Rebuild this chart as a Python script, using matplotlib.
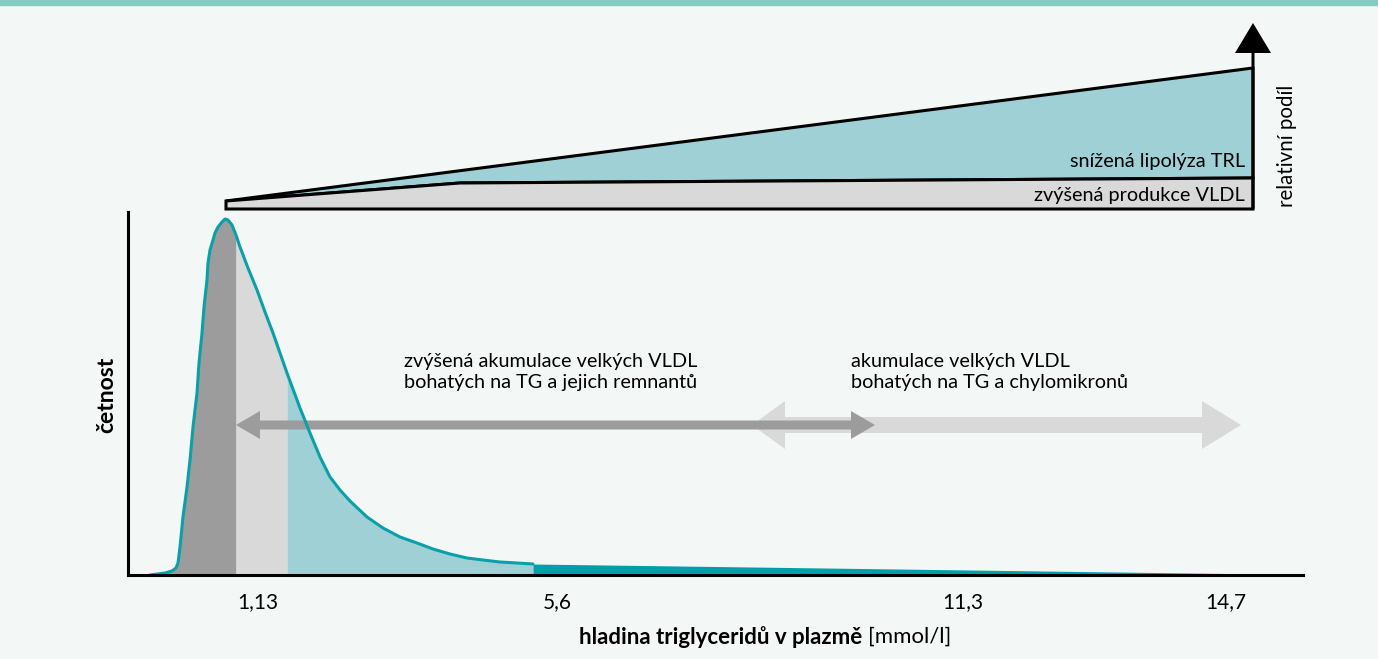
import numpy as np
import matplotlib
matplotlib.use("Agg")
import matplotlib.pyplot as plt
from matplotlib.patches import Polygon, FancyArrow, Rectangle

plt.rcParams['font.family'] = ['Lato', 'DejaVu Sans']

# frequency curve (x = schematic position, h = frequency height above baseline)
curve_x = [150, 165, 172, 176, 178, 180, 183, 187, 190, 193, 197, 199, 202, 204, 207, 208,
           210, 213, 215, 218, 222, 225, 228, 232, 236, 240, 248, 257, 265, 273, 280, 287,
           300, 310, 320, 330, 340, 350, 367, 383, 400, 417, 433, 450, 467, 483, 500, 517, 533]
curve_h = [0, 2, 4, 7, 12, 28, 58, 88, 115, 148, 182, 212, 242, 268, 295, 312,
           325, 335, 342, 348, 353, 356, 355, 350, 340, 328, 307, 285, 263, 242, 222, 202,
           167, 142, 118, 98, 85, 74, 58, 47, 38, 32, 26, 21, 17, 15, 13, 12, 11]
tail_x = [533, 1226]
tail_h = [11, 1.5]

# coloured bands under the curve
band_edges = [150, 236, 287, 533]
band_colors = ['#9c9c9c', '#d9d9d9', '#9fd0d6']
tail_color = '#00a0a8'
line_color = '#0aa0aa'

tick_pos = [258, 557, 963, 1226]
tick_labels = ['1,13', '5,6', '11,3', '14,7']

# relative share diagram (top)
share_x = [226, 460, 1253]
vldl_h = [374, 392, 397]      # top of "zvýšená produkce VLDL"
trl_h = [374, 507]            # top of "snížená lipolýza TRL" (at 226 and 1253)
share_base = 366

bg = '#f3f8f7'
fig = plt.figure(figsize=(13.78, 6.59), dpi=100, facecolor=bg)
fig.patches.append(Rectangle((0, 1 - 5 / 659), 1, 5 / 659, transform=fig.transFigure,
                             color='#86cbbf', zorder=0))

ax = fig.add_axes([128 / 1378, (659 - 575) / 659, (1303 - 128) / 1378, (575 - 212) / 659])
ax.set_facecolor(bg)
ax.set_xlim(128, 1303)
ax.set_ylim(0, 363)
for s in ['top', 'right']:
    ax.spines[s].set_visible(False)
for s in ['left', 'bottom']:
    ax.spines[s].set_linewidth(2.2)
    ax.spines[s].set_zorder(6)
ax.set_yticks([])
ax.set_xticks(tick_pos, tick_labels)
ax.tick_params(axis='x', length=0, pad=12, labelsize=15)

cx = np.array(curve_x)
ch = np.array(curve_h)
for i, c in enumerate(band_colors):
    m = (cx >= band_edges[i]) & (cx <= band_edges[i + 1])
    ax.fill_between(cx[m], ch[m], 0, color=c, lw=0, zorder=1)
ax.fill_between(tail_x, tail_h, 0, color=tail_color, lw=0, zorder=1)

# arrows
ax.add_patch(FancyArrow(996, 150, 752 - 996, 0, width=16, head_width=48, head_length=33,
                        length_includes_head=True, color='#d9d9d9', lw=0, zorder=2, clip_on=False))
ax.add_patch(FancyArrow(996, 150, 1241 - 996, 0, width=16, head_width=48, head_length=39,
                        length_includes_head=True, color='#d9d9d9', lw=0, zorder=2, clip_on=False))
ax.add_patch(FancyArrow(555, 150, 236 - 555, 0, width=9, head_width=28, head_length=24,
                        length_includes_head=True, color='#9c9c9c', lw=0, zorder=3, clip_on=False))
ax.add_patch(FancyArrow(555, 150, 875 - 555, 0, width=9, head_width=28, head_length=24,
                        length_includes_head=True, color='#9c9c9c', lw=0, zorder=3, clip_on=False))

ax.plot(curve_x, curve_h, color=line_color, lw=2.2, zorder=4, clip_on=False,
        solid_joinstyle='round', solid_capstyle='round')

# relative share diagram
gray_poly = [(share_x[0], share_base), (share_x[0], vldl_h[0]), (share_x[1], vldl_h[1]),
             (share_x[2], vldl_h[2]), (share_x[2], share_base)]
teal_poly = [(share_x[0], trl_h[0]), (share_x[2], trl_h[1]), (share_x[2], vldl_h[2]),
             (share_x[1], vldl_h[1])]
ax.add_patch(Polygon(teal_poly, closed=True, fc='#9fd0d6', ec='black', lw=2.2,
                     joinstyle='miter', clip_on=False, zorder=3))
ax.add_patch(Polygon(gray_poly, closed=True, fc='#d9d9d9', ec='black', lw=2.2,
                     joinstyle='miter', clip_on=False, zorder=3))
ax.add_patch(FancyArrow(share_x[2], share_base, 0, 552 - share_base, width=3, head_width=36,
                        head_length=30, length_includes_head=True, color='black', lw=0,
                        clip_on=False, zorder=4))

fs = 14.3
ax.text(1245, 413, 'snížená lipolýza TRL', ha='right', va='center', fontsize=fs, zorder=5, clip_on=False)
ax.text(1245, 380, 'zvýšená produkce VLDL', ha='right', va='center', fontsize=fs, zorder=5, clip_on=False)
ax.text(1287, 429, 'relativní podíl', ha='center', va='center', rotation=90, fontsize=14.8, clip_on=False)

ax.text(404, 203, 'zvýšená akumulace velkých VLDL\nbohatých na TG a jejich remnantů',
        ha='left', va='center', fontsize=fs, linespacing=1.3)
ax.text(851, 203, 'akumulace velkých VLDL\nbohatých na TG a chylomikronů',
        ha='left', va='center', fontsize=fs, linespacing=1.3)

ax.text(107, 180, 'četnost', ha='center', va='center', rotation=90, fontsize=16.5,
        fontweight='bold', clip_on=False)

t1 = ax.text(579, -62, 'hladina triglyceridů v plazmě', ha='left', va='center', fontsize=16,
             fontweight='bold', clip_on=False)
ax.annotate('[mmol/l]', xy=(1, 0.5), xycoords=t1, xytext=(4, 0), textcoords='offset points',
            ha='left', va='center', fontsize=16)

fig.savefig('out.png', dpi=100, facecolor=bg)
